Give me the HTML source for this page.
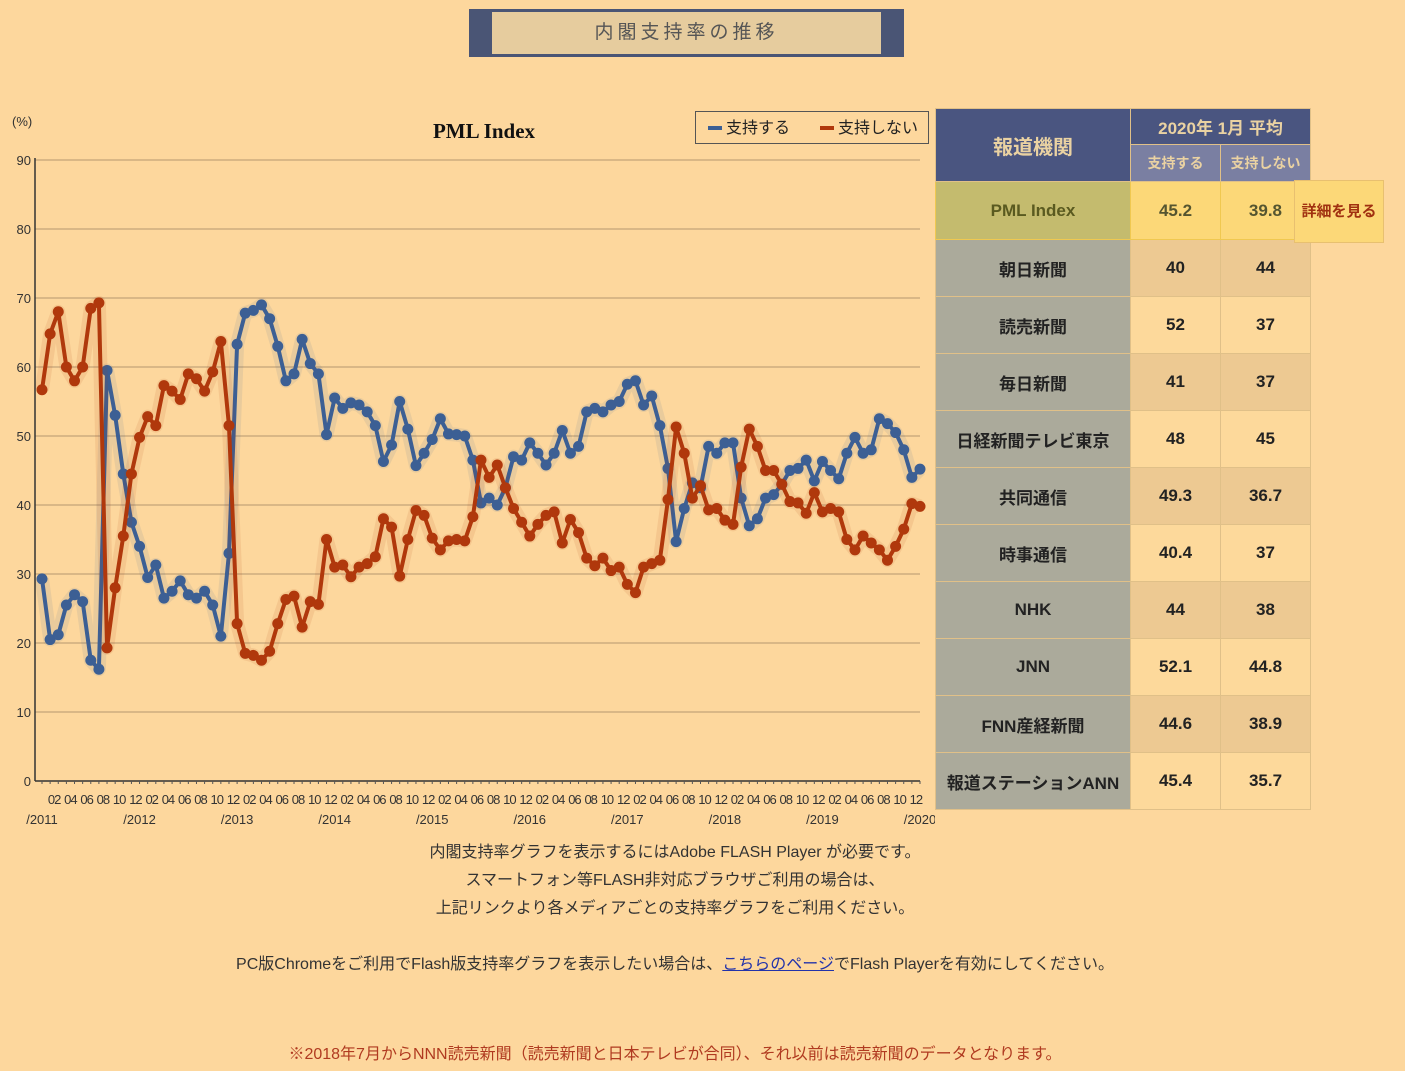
<!DOCTYPE html>
<html><head><meta charset="utf-8">
<style>
body{margin:0;width:1405px;height:1071px;background:#fdd79d;font-family:"Liberation Sans","Noto Sans CJK JP",sans-serif;position:relative;overflow:hidden}
.abs{position:absolute}
#title-outer{left:469px;top:9px;width:435px;height:48px;background:#4a5575}
#title-inner{left:23px;top:3px;width:389px;height:42px;background:#e6cc9e;color:#555;font-size:19px;letter-spacing:4px;text-align:center;line-height:42px}
table{border-collapse:collapse;position:absolute;left:935px;top:108px}
td{border:1px solid #e0c088;text-align:center;font-weight:bold;font-size:17px;color:#222;padding:0}
.hd{background:#4a5580;color:#ead2a2}
.sub{background:#7a7fa2;color:#ead2a2;font-size:14px}
.nm{background:#abaa9b;width:194px;height:56px}
.v{width:89px}
.a{background:#edc992}.b{background:#fdd99b}
.pn{background:#c4bb6e;color:#5a5a20;font-weight:bold;border:1px solid #f0c850}
.pv{background:#fcd878;color:#555530;border:1px solid #f0c850}
.txt{left:0;width:1350px;text-align:center;font-size:16px;color:#333}
</style></head><body>
<div id="title-outer" class="abs"><div id="title-inner" class="abs">内閣支持率の推移</div></div>

<svg class="abs" style="left:0;top:100px" width="935" height="740">
<g id="grid"></g><g id="series"></g><g id="axis"></g>
<text x="12" y="26" font-size="13" fill="#333">(%)</text>
<text x="484" y="38" font-size="21" font-weight="bold" text-anchor="middle" font-family="Liberation Serif,serif" fill="#111">PML Index</text>
<g>
<rect x="695.5" y="11.5" width="233" height="32" fill="#fdd79d" stroke="#555"/>
<rect x="708" y="26" width="14" height="4" fill="#3c5f94"/>
<text x="726" y="33" font-size="16" fill="#222">支持する</text>
<rect x="820" y="26" width="14" height="4" fill="#b0380c"/>
<text x="838" y="33" font-size="16" fill="#222">支持しない</text>
</g>
</svg>

<table>
<tr><td class="hd" rowspan="2" style="font-size:20px;width:194px">報道機関</td><td class="hd" colspan="2" style="height:35px">2020年 1月 平均</td></tr>
<tr><td class="sub v" style="height:36px">支持する</td><td class="sub v">支持しない</td></tr>
<tr><td class="pn" style="height:57px">PML Index</td><td class="pv">45.2</td><td class="pv" style="text-align:right;padding-right:28px;width:61px">39.8</td></tr>
<tr><td class="nm">朝日新聞</td><td class="v a">40</td><td class="v a">44</td></tr>
<tr><td class="nm">読売新聞</td><td class="v b">52</td><td class="v b">37</td></tr>
<tr><td class="nm">毎日新聞</td><td class="v a">41</td><td class="v a">37</td></tr>
<tr><td class="nm">日経新聞テレビ東京</td><td class="v b">48</td><td class="v b">45</td></tr>
<tr><td class="nm">共同通信</td><td class="v a">49.3</td><td class="v a">36.7</td></tr>
<tr><td class="nm">時事通信</td><td class="v b">40.4</td><td class="v b">37</td></tr>
<tr><td class="nm">NHK</td><td class="v a">44</td><td class="v a">38</td></tr>
<tr><td class="nm">JNN</td><td class="v b">52.1</td><td class="v b">44.8</td></tr>
<tr><td class="nm">FNN産経新聞</td><td class="v a">44.6</td><td class="v a">38.9</td></tr>
<tr><td class="nm">報道ステーションANN</td><td class="v b">45.4</td><td class="v b">35.7</td></tr>
</table>
<div class="abs" style="left:1294px;top:180px;width:88px;height:61px;background:#fcd878;border:1px solid #e8c070;color:#a03010;font-weight:bold;font-size:15px;line-height:61px;text-align:center">詳細を見る</div>

<div class="abs txt" style="top:838px">内閣支持率グラフを表示するにはAdobe FLASH Player が必要です。</div>
<div class="abs txt" style="top:866px">スマートフォン等FLASH非対応ブラウザご利用の場合は、</div>
<div class="abs txt" style="top:894px">上記リンクより各メディアごとの支持率グラフをご利用ください。</div>
<div class="abs txt" style="top:950px">PC版Chromeをご利用でFlash版支持率グラフを表示したい場合は、<span style="color:#2233aa;text-decoration:underline">こちらのページ</span>でFlash Playerを有効にしてください。</div>
<div class="abs txt" style="top:1040px;color:#b03a20">※2018年7月からNNN読売新聞（読売新聞と日本テレビが合同）、それ以前は読売新聞のデータとなります。</div>

<script>
const yTicks=[0,10,20,30,40,50,60,70,80,90];
const years=[2011,2012,2013,2014,2015,2016,2017,2018,2019,2020];
const monthLabels=["02","04","06","08","10","12"];
const support=[29.3,20.5,21.2,25.5,27,26,17.5,16.2,59.5,53,44.5,37.5,
34,29.5,31.3,26.5,27.5,29,27,26.5,27.5,25.5,21,33,
63.3,67.8,68.2,69,67,63,58,59,64,60.5,59,50.2,
55.5,54,54.8,54.5,53.5,51.5,46.3,48.7,55,51,45.7,47.5,
49.5,52.5,50.3,50.2,50,46.5,40.3,41,40,42.5,47,46.5,
49,47.5,45.8,47.5,50.8,47.5,48.5,53.5,54,53.5,54.5,55,
57.5,58,54.5,55.8,51.5,45.3,34.7,39.5,43.2,42.5,48.5,47.5,
49,49,41,37,38,41,41.5,43,45,45.3,46.5,43.5,
46.3,45,43.8,47.5,49.8,47.5,48,52.5,51.8,50.5,48,44,45.2];
const nonSupport=[56.7,64.8,68,60,58,60,68.5,69.3,19.3,28,35.5,44.5,
49.8,52.8,51.5,57.3,56.5,55.3,59,58.3,56.5,59.3,63.7,51.5,
22.8,18.5,18.2,17.5,18.8,22.8,26.3,26.8,22.3,26,25.6,35,
31,31.3,29.6,31,31.5,32.5,38,36.8,29.7,35,39.2,38.5,
35.2,33.5,34.8,35,34.8,38.3,46.5,44,45.8,42.5,39.5,37.5,
35.5,37.2,38.5,39,34.5,37.9,36,32.3,31.2,32.3,30.5,31,
28.5,27.3,31,31.5,32,40.8,51.3,47.5,41,42.8,39.3,39.5,
37.8,37.2,45.5,51,48.5,45,45,43,40.5,40.3,38.8,41.8,
39,39.5,39,35,33.5,35.5,34.5,33.5,32,34,36.5,40.2,39.8];
const NS="http://www.w3.org/2000/svg";
const X0=42,X1=920,Y0=681,Y90=60;
const N=support.length;
const xS=i=>X0+(X1-X0)*i/((years.length-1)*12);
const yS=v=>Y0+(Y90-Y0)*v/90;
function mk(t,a,p){const e=document.createElementNS(NS,t);for(const k in a)e.setAttribute(k,a[k]);p.appendChild(e);return e;}
const grid=document.getElementById('grid'),axis=document.getElementById('axis'),ser=document.getElementById('series');
yTicks.forEach(v=>{
 if(v>0){const g=mk('line',{x1:35,x2:920,y1:yS(v),y2:yS(v),stroke:'#c4a47a','stroke-width':1.2},grid);
 
 }
 const t=mk('text',{x:31,y:yS(v)+5,'font-size':13,'text-anchor':'end',fill:'#333'},axis);t.textContent=v;
 
 
});
mk('line',{x1:35,x2:35,y1:yS(90)-2,y2:Y0,stroke:'#333','stroke-width':1.5},axis);
mk('line',{x1:35,x2:920,y1:Y0,y2:Y0,stroke:'#333','stroke-width':1.5},axis);
for(let i=0;i<N;i++)mk('line',{x1:xS(i),x2:xS(i),y1:Y0,y2:Y0+3,stroke:'#555'},axis);
years.forEach((y,k)=>{
 const t=mk('text',{x:xS(k*12),y:Y0+43,'font-size':13,'text-anchor':'middle',fill:'#333'},axis);t.textContent='/'+y;
 
 
 if(k<years.length-1)monthLabels.forEach((m,j)=>{
  const u=mk('text',{x:xS(k*12+2*j+1)+4,y:Y0+23,'font-size':13,'text-anchor':'middle',fill:'#333','letter-spacing':-1},axis);u.textContent=m;
  
  
 });
});
function draw(arr,col,name){
 const pts=arr.map((v,i)=>xS(i)+','+yS(v)).join(' ');
 mk('polyline',{points:pts,fill:'none',stroke:col,'stroke-width':14,'stroke-opacity':0.1,'stroke-linejoin':'round'},ser);
 const pl=mk('polyline',{points:pts,fill:'none',stroke:col,'stroke-width':4,'stroke-linejoin':'round'},ser);
 
 
 arr.forEach((v,i)=>{const c=mk('circle',{cx:xS(i),cy:yS(v),r:5.5,fill:col},ser);
  
  });
}
draw(support,'#3c5f94','support');
draw(nonSupport,'#b0380c','nonsupport');
</script>
</body></html>
